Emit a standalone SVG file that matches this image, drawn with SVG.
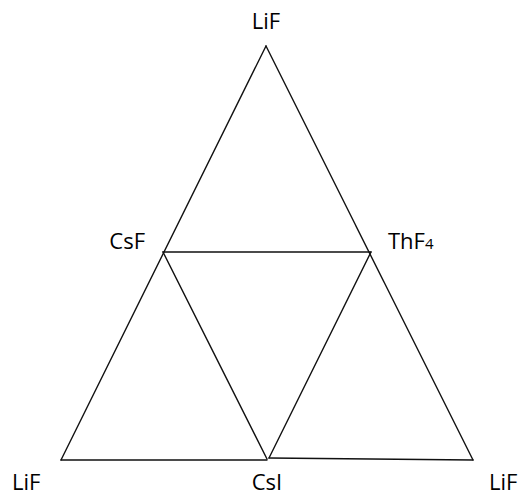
<svg xmlns="http://www.w3.org/2000/svg" width="518" height="495" viewBox="0 0 518 495">
<style>
.e{stroke:#111;stroke-width:1.4;fill:none;stroke-linecap:round}
text{font-family:"Open Sans","Noto Sans","DejaVu Sans",sans-serif;font-size:22px;fill:#000}
</style>
<rect width="518" height="495" fill="#fff"/>
<g id="connectors">
<line class="e" x1="266" y1="46" x2="61" y2="460"/>
<line class="e" x1="266" y1="46" x2="473" y2="460"/>
<line class="e" x1="163" y1="252" x2="371" y2="252"/>
<line class="e" x1="163" y1="252" x2="267" y2="459"/>
<line class="e" x1="371" y1="252" x2="269" y2="458"/>
<line class="e" x1="61" y1="460" x2="267" y2="460"/>
<line class="e" x1="269" y1="458" x2="473" y2="460"/>
</g>
<g id="lif-top"><text x="266" y="29" text-anchor="middle">LiF</text></g>
<g id="csf"><text x="145" y="249" text-anchor="end">CsF</text></g>
<g id="thf4"><text x="388" y="249">ThF<tspan font-size="15">4</tspan></text></g>
<g id="lif-left"><text x="12" y="490">LiF</text></g>
<g id="csi"><text x="267" y="490" text-anchor="middle">CsI</text></g>
<g id="lif-right"><text x="489" y="490">LiF</text></g>
</svg>
